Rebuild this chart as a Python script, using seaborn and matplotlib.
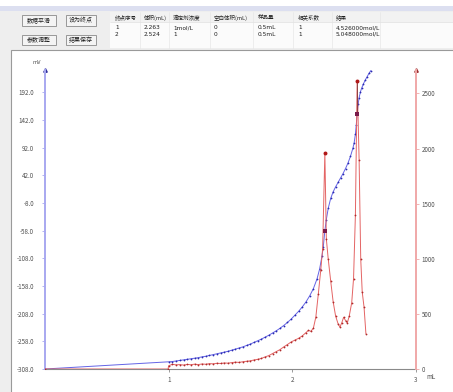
import matplotlib
matplotlib.use("Agg")
import matplotlib.pyplot as plt
import seaborn as sns
from matplotlib.patches import Rectangle
from matplotlib.lines import Line2D

# ---------------- data ----------------
buttons = ["数据平滑", "设为终点", "参数调整", "结果保存"]
table_headers = ["终点序号", "体积(mL)", "滴定剂浓度", "空白体积(mL)", "样品量", "相关系数", "结果"]
table_row1 = ["1", "2.263", "1mol/L", "0", "0.5mL", "1", "4.526000mol/L"]
table_row2 = ["2", "2.524", "1", "0", "0.5mL", "1", "5.048000mol/L"]

vol_mv = [0.00, 1.00, 1.03, 1.06, 1.09, 1.12, 1.15, 1.18, 1.21, 1.24, 1.27, 1.30,
          1.33, 1.36, 1.39, 1.42, 1.45, 1.48, 1.51, 1.54, 1.57, 1.60, 1.63, 1.66,
          1.69, 1.72, 1.75, 1.78, 1.81, 1.84, 1.87, 1.90, 1.93, 1.96, 1.99, 2.02,
          2.05, 2.08, 2.11, 2.14, 2.17, 2.20, 2.22, 2.24, 2.25, 2.263, 2.275, 2.29,
          2.31, 2.33, 2.35, 2.37, 2.39, 2.41, 2.43, 2.45, 2.47, 2.49, 2.50, 2.51,
          2.517, 2.524, 2.532, 2.54, 2.55, 2.56, 2.575, 2.59, 2.605, 2.62, 2.635]
mv = [-308, -295, -294.5, -293.5, -292.5, -291.5, -290.5, -289.5, -288.5, -287.5, -286, -285,
      -283.5, -282, -280.5, -279, -277.5, -276, -274, -272, -270, -268, -265.5, -263,
      -260, -257, -254, -250.5, -247, -243, -239, -234.5, -229.5, -224, -218, -211,
      -204, -196, -187, -176, -163, -145, -128, -104, -88, -58, -38, -18,
      0, 12, 21, 29, 37, 45, 54, 64, 76, 91, 101, 116,
      133, 153, 170, 182, 192, 199, 207, 214, 220, 226, 231]

vol_d = [0.00, 0.995, 1.00, 1.03, 1.06, 1.09, 1.12, 1.15, 1.18, 1.21, 1.24, 1.27,
         1.30, 1.33, 1.36, 1.39, 1.42, 1.45, 1.48, 1.51, 1.54, 1.57, 1.60, 1.63,
         1.66, 1.69, 1.72, 1.75, 1.78, 1.81, 1.84, 1.87, 1.90, 1.93, 1.96, 1.99,
         2.02, 2.05, 2.08, 2.11, 2.13, 2.15, 2.17, 2.19, 2.21, 2.23, 2.245, 2.263,
         2.275, 2.29, 2.31, 2.33, 2.35, 2.37, 2.385, 2.40, 2.415, 2.43, 2.445, 2.46,
         2.48, 2.495, 2.51, 2.524, 2.54, 2.553, 2.565, 2.58, 2.595]
dd = [0, 0, 30, 42, 38, 40, 36, 41, 39, 44, 40, 46,
      43, 49, 47, 52, 50, 55, 53, 58, 62, 60, 66, 70,
      74, 82, 88, 96, 110, 122, 140, 158, 176, 200, 222, 245,
      262, 278, 300, 330, 350, 342, 370, 470, 680, 900, 1090, 1963,
      1180, 1000, 800, 610, 480, 410, 380, 420, 470, 440, 420, 480,
      600, 820, 1400, 2616, 1900, 1000, 700, 560, 320]

ep_vol = [2.263, 2.524]
ep_mv = [-58, 153]
ep_d = [1963, 2616]

left_ticks = [-308, -258, -208, -158, -108, -58, -8, 42, 92, 142, 192]
right_ticks = [0, 500, 1000, 1500, 2000, 2500]
x_ticks = [1, 2, 3]

# ---------------- style ----------------
sns.set_style("white")
plt.rcParams['font.family'] = ['Noto Sans CJK SC', 'DejaVu Sans']

W, H = 453, 392
fig = plt.figure(figsize=(W / 100, H / 100), dpi=100)
fig.patch.set_facecolor('#eeeeee')

def fx(x):
    return x / W

def fy(y):
    return 1 - y / H

def rect(x0, y0, x1, y1, **kw):
    fig.patches.append(Rectangle((fx(x0), fy(y1)), fx(x1) - fx(x0), fy(y0) - fy(y1),
                                 transform=fig.transFigure, figure=fig, zorder=-10, **kw))

def hline(x0, x1, y, **kw):
    fig.lines.append(Line2D([fx(x0), fx(x1)], [fy(y), fy(y)], transform=fig.transFigure,
                            figure=fig, zorder=-5, **kw))

def vline(x, y0, y1, **kw):
    fig.lines.append(Line2D([fx(x), fx(x)], [fy(y0), fy(y1)], transform=fig.transFigure,
                            figure=fig, zorder=-5, **kw))

# top band
rect(0, 0, W, 6, facecolor='white', edgecolor='none')
rect(0, 6, W, 11, facecolor='#dcdff0', edgecolor='none')

# buttons
btn_pos = [(22, 15, 56, 26), (66, 15, 96, 26), (22, 35, 56, 45), (66, 35, 96, 45)]
for (x0, y0, x1, y1), label in zip(btn_pos, buttons):
    rect(x0, y0, x1, y1, facecolor='#f4f4f4', edgecolor='#8a8a8a', linewidth=0.6)
    fig.text(fx((x0 + x1) / 2), fy((y0 + y1) / 2), label, fontsize=4.3, color='#202020',
             ha='center', va='center')

# table
rect(110, 12, W, 48, facecolor='#fbfbfb', edgecolor='none')
rect(110, 12, W, 22, facecolor='#f2f2f2', edgecolor='none')
hline(110, W, 22, color='#d8d8d8', linewidth=0.4)
col_x = [115, 144, 173, 214, 258, 298, 336]
for xs in [140, 169, 210, 253, 293, 332, 380]:
    vline(xs, 12, 48, color='#e2e2e2', linewidth=0.4)
for x, t in zip(col_x, table_headers):
    fig.text(fx(x), fy(17.5), t, fontsize=4.0, color='#202020', ha='left', va='center')
for x, t in zip(col_x, table_row1):
    fig.text(fx(x), fy(27.5), t, fontsize=4.2, color='#202020', ha='left', va='center',
             family=['DejaVu Sans'] if t.isascii() else None)
for x, t in zip(col_x, table_row2):
    fig.text(fx(x), fy(34.5), t, fontsize=4.2, color='#202020', ha='left', va='center',
             family=['DejaVu Sans'] if t.isascii() else None)

# chart panel
rect(11, 50, W + 2, H + 2, facecolor='white', edgecolor='#9a9a9a', linewidth=0.8)

# ---------------- main axes ----------------
ax = fig.add_axes([fx(45), fy(369), fx(416) - fx(45), fy(70) - fy(369)])
ax.patch.set_alpha(0)
ax2 = ax.twinx()
ax2.patch.set_alpha(0)

sns.lineplot(x=vol_mv, y=mv, ax=ax, color='#6464e6', linewidth=0.7, marker='o',
             markersize=1.3, markeredgewidth=0, markerfacecolor='#2a2ab0',
             estimator=None, sort=False)
sns.lineplot(x=vol_d, y=dd, ax=ax2, color='#e46464', linewidth=0.7, marker='o',
             markersize=1.3, markeredgewidth=0, markerfacecolor='#b02a2a',
             estimator=None, sort=False)
# endpoint connector at second endpoint
ax2.plot([ep_vol[1], ep_vol[1]], [ep_d[1], (ep_mv[1] + 308) / 540 * 2713], color='#6a3030',
         linewidth=0.5)
sns.scatterplot(x=ep_vol, y=ep_d, ax=ax2, color='#b01818', s=8, linewidth=0, zorder=5)
sns.scatterplot(x=ep_vol, y=[(v + 308) / 540 * 2713 for v in ep_mv], ax=ax2, color='#7a1a4a',
                marker='s', s=7, linewidth=0, zorder=5)

ax.set_xlim(0, 3)
ax.set_ylim(-308, 232)
ax2.set_ylim(0, 2713)

ax.set_xticks(x_ticks)
ax.set_xticklabels([str(t) for t in x_ticks])
ax.set_yticks(left_ticks)
ax.set_yticklabels([f"{t:.1f}" for t in left_ticks])
ax2.set_yticks(right_ticks)
ax2.set_yticklabels([str(t) for t in right_ticks])

for a in (ax, ax2):
    a.set_xlabel('')
    a.set_ylabel('')
    a.spines['top'].set_visible(False)
    a.grid(False)

ax.spines['left'].set_color('#a8a8f0')
ax.spines['left'].set_linewidth(1.4)
ax.spines['right'].set_visible(False)
ax.spines['bottom'].set_color('#8a8a8a')
ax.spines['bottom'].set_linewidth(0.8)
ax2.spines['left'].set_visible(False)
ax2.spines['bottom'].set_visible(False)
ax2.spines['right'].set_color('#f0a8a8')
ax2.spines['right'].set_linewidth(1.4)

ax.tick_params(axis='y', which='both', left=True, length=2, width=0.6, color='#a8a8f0',
               labelsize=4.5, labelcolor='#505050', pad=6)
ax.tick_params(axis='x', which='both', bottom=True, length=2, width=0.6, color='#8a8a8a',
               labelsize=4.5, labelcolor='#505050', pad=3)
ax2.tick_params(axis='y', which='both', right=True, length=2, width=0.6, color='#f0a8a8',
                labelsize=4.5, labelcolor='#505050', pad=2)

# axis arrow heads
ax.plot([0], [1], marker='^', markersize=2.5, color='#30309a', transform=ax.transAxes, clip_on=False)
ax2.plot([1], [1], marker='^', markersize=2.5, color='#9a3030', transform=ax2.transAxes, clip_on=False)

fig.text(fx(37), fy(63), 'mV', fontsize=4.0, color='#505050', ha='center', va='center')
fig.text(fx(431), fy(377), 'mL', fontsize=4.5, color='#505050', ha='center', va='center')

fig.savefig('out.png', dpi=100)
